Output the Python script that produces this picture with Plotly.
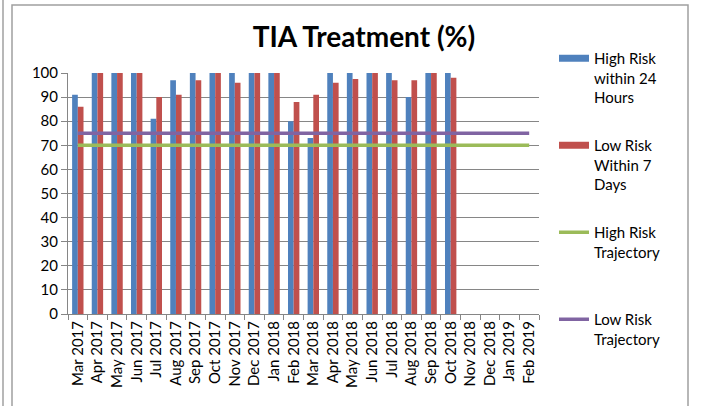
import plotly.graph_objects as go

months = ["Mar 2017", "Apr 2017", "May 2017", "Jun 2017", "Jul 2017", "Aug 2017",
          "Sep 2017", "Oct 2017", "Nov 2017", "Dec 2017", "Jan 2018", "Feb 2018",
          "Mar 2018", "Apr 2018", "May 2018", "Jun 2018", "Jul 2018", "Aug 2018",
          "Sep 2018", "Oct 2018", "Nov 2018", "Dec 2018", "Jan 2019", "Feb 2019"]

high_risk_24h = [91, 100, 100, 100, 81, 97, 100, 100, 100, 100, 100, 80,
                 73, 100, 100, 100, 100, 90, 100, 100, None, None, None, None]
low_risk_7d = [86, 100, 100, 100, 90, 91, 97, 100, 96, 100, 100, 88,
               91, 96, 97.5, 100, 97, 97, 100, 98, None, None, None, None]
high_risk_trajectory = [70] * len(months)
low_risk_trajectory = [75] * len(months)

FONT = "Lato"
GRID = "#868686"
BLUE, RED, GREEN, PURPLE = "#4F81BD", "#C0504D", "#9BBB59", "#8064A2"

fig = go.Figure()
fig.add_trace(go.Bar(x=months, y=high_risk_24h, name="High Risk within 24 Hours",
                     marker=dict(color=BLUE, line=dict(width=0)), showlegend=False))
fig.add_trace(go.Bar(x=months, y=low_risk_7d, name="Low Risk Within 7 Days",
                     marker=dict(color=RED, line=dict(width=0)), showlegend=False))
fig.add_trace(go.Scatter(x=months, y=high_risk_trajectory, mode="lines",
                         name="High Risk<br>Trajectory<br> ",
                         line=dict(color=GREEN, width=3.5), legendgroup="c",
                         legendrank=3))
fig.add_trace(go.Scatter(x=months, y=low_risk_trajectory, mode="lines",
                         name="Low Risk<br>Trajectory<br> ",
                         line=dict(color=PURPLE, width=3.5), legendgroup="d",
                         legendrank=4))
# legend keys for the bar series (wide rectangle keys as in the reference)
fig.add_trace(go.Scatter(x=[months[0]], y=[None], mode="lines",
                         name="High Risk<br>within 24<br>Hours",
                         line=dict(color=BLUE, width=7), legendgroup="a",
                         legendrank=1))
fig.add_trace(go.Scatter(x=[months[0]], y=[None], mode="lines",
                         name="Low Risk<br>Within 7<br>Days",
                         line=dict(color=RED, width=7), legendgroup="b",
                         legendrank=2))

L, R, T, B = 68, 539, 73, 314
W = R - L
H = B - T
def px(x):
    return (x - L) / W
def py(y):
    return (B - y) / H

fig.update_layout(
    width=701, height=406,
    margin=dict(l=L, r=701 - R, t=T, b=406 - B, pad=0),
    paper_bgcolor="white", plot_bgcolor="white",
    font=dict(family=FONT, size=15, color="black"),
    title=dict(text="<b>TIA Treatment (%)</b>", x=364 / 701, xanchor="center",
               y=1 - 37 / 406, yanchor="middle", font=dict(size=28, family=FONT)),
    barmode="group", bargap=0.42, bargroupgap=0,
    showlegend=True,
    legend=dict(x=px(554), xanchor="left", y=py(42), yanchor="top",
                valign="top", tracegroupgap=25.5, traceorder="grouped",
                maxheight=400,
                font=dict(size=15, family=FONT), bgcolor="rgba(0,0,0,0)"),
    xaxis=dict(type="category", categoryorder="array", categoryarray=months,
               tickangle=-90, tickson="boundaries", ticks="outside", ticklen=5,
               tickcolor=GRID, showline=True, linecolor=GRID, linewidth=1,
               showgrid=False, tickfont=dict(size=15, family=FONT)),
    yaxis=dict(range=[0, 100], dtick=10, ticks="outside", ticklen=6, tickcolor=GRID,
               showline=True, linecolor=GRID, linewidth=1, showgrid=True,
               gridcolor=GRID, gridwidth=1, zeroline=False,
               tickfont=dict(size=15, family=FONT)),
    shapes=[
        dict(type="rect", xref="paper", yref="paper", x0=px(12), x1=px(688),
             y0=py(420), y1=py(5), line=dict(color="#a0a0a0", width=1.5),
             fillcolor="rgba(0,0,0,0)", layer="below"),
        dict(type="line", xref="paper", yref="paper", x0=px(3), x1=px(3),
             y0=py(420), y1=py(-5), line=dict(color="#a0a0a0", width=1.5)),
    ],
)

fig.write_html("out.html", config={"displayModeBar": False},
               post_script="document.body.style.margin='0';")
